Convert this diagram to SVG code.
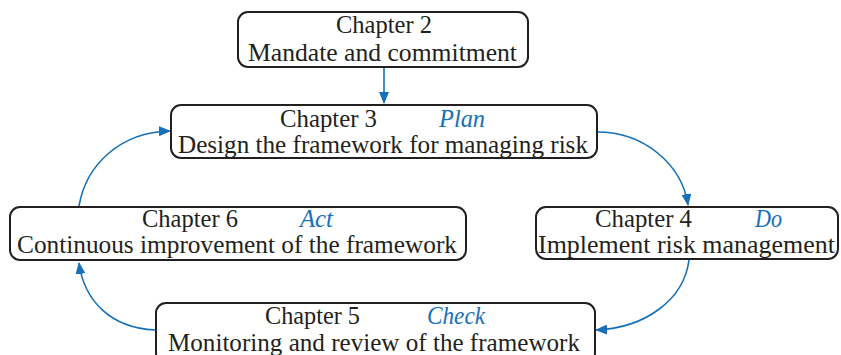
<svg xmlns="http://www.w3.org/2000/svg" width="841" height="355" viewBox="0 0 841 355">
  <defs>
    <style>
      .box { fill: #ffffff; stroke: #231f20; stroke-width: 2; }
      .t { font-family: "Liberation Serif", "DejaVu Serif", serif; font-size: 25px; fill: #231f20; }
      .p { font-family: "Liberation Serif", "DejaVu Serif", serif; font-size: 25px; font-style: italic; fill: #1570b8; }
      .link { fill: none; stroke: #1570b8; stroke-width: 1.6; marker-end: url(#arr); }
    </style>
    <marker id="arr" viewBox="0 0 12 10" refX="11" refY="5" markerWidth="12" markerHeight="10" markerUnits="userSpaceOnUse" orient="auto">
      <path d="M0,0 L12,5 L0,10 Z" fill="#1570b8"/>
    </marker>
  </defs>
  <rect width="841" height="355" fill="#ffffff"/>

  <g id="connectors">
    <path class="link" d="M384,67 L384,103"/>
    <path class="link" d="M597,132 C645,132 682,165 688,205"/>
    <path class="link" d="M689,260 C684,300 645,328 596,330"/>
    <path class="link" d="M155,330 C110,328 84,300 79,263"/>
    <path class="link" d="M79,206 C86,165 120,132 170,131"/>
  </g>

  <g id="ch2">
    <rect class="box" x="238" y="12" width="290" height="55" rx="10"/>
    <text class="t" x="336" y="33" textLength="96" lengthAdjust="spacingAndGlyphs">Chapter 2</text>
    <text class="t" x="248" y="61" textLength="269" lengthAdjust="spacingAndGlyphs">Mandate and commitment</text>
  </g>

  <g id="ch3">
    <rect class="box" x="171" y="105" width="426" height="53" rx="10"/>
    <text class="t" x="280" y="127" textLength="97" lengthAdjust="spacingAndGlyphs">Chapter 3</text>
    <text class="p" x="439" y="127" textLength="46" lengthAdjust="spacingAndGlyphs">Plan</text>
    <text class="t" x="178" y="153" textLength="410" lengthAdjust="spacingAndGlyphs">Design the framework for managing risk</text>
  </g>

  <g id="ch4">
    <rect class="box" x="536" y="207" width="302" height="52" rx="10"/>
    <text class="t" x="595" y="227" textLength="97" lengthAdjust="spacingAndGlyphs">Chapter 4</text>
    <text class="p" x="755" y="227" textLength="27" lengthAdjust="spacingAndGlyphs">Do</text>
    <text class="t" x="538" y="253" textLength="297" lengthAdjust="spacingAndGlyphs">Implement risk management</text>
  </g>

  <g id="ch5">
    <rect class="box" x="156" y="303" width="439" height="60" rx="10"/>
    <text class="t" x="265" y="324" textLength="95" lengthAdjust="spacingAndGlyphs">Chapter 5</text>
    <text class="p" x="427" y="324" textLength="58" lengthAdjust="spacingAndGlyphs">Check</text>
    <text class="t" x="168" y="351" textLength="412" lengthAdjust="spacingAndGlyphs">Monitoring and review of the framework</text>
  </g>

  <g id="ch6">
    <rect class="box" x="10" y="207" width="456" height="53" rx="10"/>
    <text class="t" x="142" y="227" textLength="96" lengthAdjust="spacingAndGlyphs">Chapter 6</text>
    <text class="p" x="300" y="227" textLength="33" lengthAdjust="spacingAndGlyphs">Act</text>
    <text class="t" x="17" y="253" textLength="440" lengthAdjust="spacingAndGlyphs">Continuous improvement of the framework</text>
  </g>
</svg>
